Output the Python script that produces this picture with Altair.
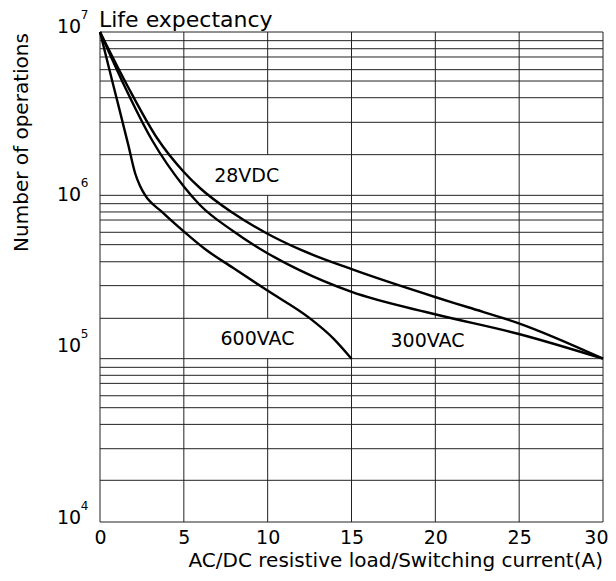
import altair as alt
import pandas as pd

FONT = "DejaVu Sans"

# ---- data ----
x_ticks = [0, 5, 10, 15, 20, 25, 30]

# horizontal grid lines (number of operations)
h_grid = [1e7, 8.85e6, 7.9e6, 7.03e6, 5.88e6, 5.01e6, 3.96e6, 2.8e6, 1.774e6,
          1e6, 8.89e5, 7.91e5, 7.06e5, 5.94e5, 4.99e5, 3.92e5, 2.8e5, 1.766e5,
          1e5, 8.85e4, 7.91e4, 7.06e4, 5.93e4, 5.01e4, 3.96e4, 2.81e4, 1.80e4, 1e4]

# vertical grid segments (broken behind the curve labels)
v_grid_x = [0, 5, 10, 10, 10, 15, 20, 20, 25, 30]
v_grid_top = [1e7, 1e7, 1e7, 1e6, 1e5, 1e7, 1e7, 1e5, 1e7, 1e7]
v_grid_bottom = [1e4, 1e4, 1.774e6, 1.766e5, 1e4, 1e4, 1.766e5, 1e4, 1e4, 1e4]

# curves
dc28_x = [0, 1.61, 3.4, 5.0, 5.96, 7.93, 9.96, 11.99, 14.97, 19.98, 22.0, 24.98, 30]
dc28_v = [1e7, 4.74e6, 2.244e6, 1.39e6, 1.109e6, 7.79e5, 5.84e5, 4.63e5, 3.54e5,
          2.385e5, 2.057e5, 1.646e5, 1e5]
ac300_x = [0, 1.43, 3.1, 5.01, 5.96, 7.93, 9.96, 11.93, 14.97, 19.98, 24.98, 30]
ac300_v = [1e7, 4.74e6, 2.182e6, 1.13e6, 8.73e5, 6.05e5, 4.44e5, 3.47e5, 2.57e5,
           1.87e5, 1.416e5, 1e5]
ac600_x = [0, 0.79, 1.69, 2.09, 2.39, 2.68, 3.68, 5.01, 6.26, 7.95, 9.94, 12.52, 13.91, 15]
ac600_v = [1e7, 4.74e6, 2.03e6, 1.37e6, 1.14e6, 1.005e6, 7.94e5, 5.99e5, 4.69e5,
           3.59e5, 2.63e5, 1.766e5, 1.333e5, 1e5]

# curve labels
label_text = ["28VDC", "600VAC", "300VAC"]
label_x = [8.75, 9.39, 19.53]
label_v = [1.317e6, 1.315e5, 1.286e5]

# y tick labels (10^n) as placed in the reference
ytick_base = ["10", "10", "10", "10"]
ytick_exp = ["7", "6", "5", "4"]
ytick_pos = [1.073e7, 1.0e6, 1.196e5, 1.058e4]

title_text = "Life expectancy"
y_title = "Number of operations"
x_title = "AC/DC resistive load/Switching current(A)"

W, H = 503, 490

# ---- tables ----
curves = pd.concat([
    pd.DataFrame({"x": dc28_x, "v": dc28_v, "s": "28VDC"}),
    pd.DataFrame({"x": ac300_x, "v": ac300_v, "s": "300VAC"}),
    pd.DataFrame({"x": ac600_x, "v": ac600_v, "s": "600VAC"}),
])
hg = pd.DataFrame({"v": h_grid})
vg = pd.DataFrame({"x": v_grid_x, "top": v_grid_top, "bot": v_grid_bottom})
labels = pd.DataFrame({"t": label_text, "x": label_x, "v": label_v})
yt = pd.DataFrame({"b": ytick_base, "e": ytick_exp, "v": ytick_pos})
txt = pd.DataFrame({"t": [title_text], "yt": [y_title], "xt": [x_title]})

xs = alt.Scale(domain=[0, 30], nice=False, zero=False)
ys = alt.Scale(type="log", domain=[1e4, 1e7], nice=False)

GRID = "#222222"

hgrid = alt.Chart(hg).mark_rule(color=GRID, strokeWidth=1).encode(
    y=alt.Y("v:Q", scale=ys, axis=None)
)

vgrid = alt.Chart(vg).mark_rule(color=GRID, strokeWidth=1).encode(
    x=alt.X("x:Q", scale=xs,
            axis=alt.Axis(values=x_ticks, grid=False, ticks=False, domain=False,
                          labelFont=FONT, labelFontSize=19, labelColor="black",
                          labelAlign=alt.condition("datum.value == 30",
                                                   alt.value("right"),
                                                   alt.value("center")),
                          labelOffset=alt.condition("datum.value == 30",
                                                    alt.value(5),
                                                    alt.value(0)),
                          labelPadding=6, labelFlush=False, title=None)),
    y=alt.Y("top:Q", scale=ys, axis=None),
    y2="bot:Q",
)

lines = alt.Chart(curves).mark_line(
    color="black", strokeWidth=2.4, interpolate="monotone"
).encode(
    x=alt.X("x:Q", scale=xs),
    y=alt.Y("v:Q", scale=ys, axis=None),
    detail="s:N",
)

curve_labels = alt.Chart(labels).mark_text(
    font=FONT, fontSize=19, color="black", align="center", baseline="middle"
).encode(
    x=alt.X("x:Q", scale=xs),
    y=alt.Y("v:Q", scale=ys, axis=None),
    text="t:N",
)

ytick_base_layer = alt.Chart(yt).mark_text(
    font=FONT, fontSize=19, color="black", align="center", baseline="middle"
).encode(
    x=alt.value(-31),
    y=alt.Y("v:Q", scale=ys, axis=None),
    text="b:N",
)
ytick_exp_layer = alt.Chart(yt).mark_text(
    font=FONT, fontSize=12, color="black", align="center", baseline="middle", dy=-12
).encode(
    x=alt.value(-15.5),
    y=alt.Y("v:Q", scale=ys, axis=None),
    text="e:N",
)

title_layer = alt.Chart(txt).mark_text(
    font=FONT, fontSize=22, color="black", align="left", baseline="alphabetic"
).encode(x=alt.value(-1), y=alt.value(-5), text="t:N")

ytitle_layer = alt.Chart(txt).mark_text(
    font=FONT, fontSize=20, color="black", align="center", baseline="middle", angle=270
).encode(x=alt.value(-78), y=alt.value(110.5), text="yt:N")

xtitle_layer = alt.Chart(txt).mark_text(
    font=FONT, fontSize=20, color="black", align="right", baseline="alphabetic"
).encode(x=alt.value(W), y=alt.value(H + 45), text="xt:N")

chart = alt.layer(
    hgrid, vgrid, lines, curve_labels, ytick_base_layer, ytick_exp_layer,
    title_layer, ytitle_layer, xtitle_layer
).properties(
    width=W, height=H,
    autosize=alt.AutoSizeParams(type="none"),
    padding={"left": 92, "top": 24, "right": 5, "bottom": 49},
    background="white",
).configure_view(stroke=None)

chart.save("out.html", embed_options={"renderer": "svg", "actions": False})
